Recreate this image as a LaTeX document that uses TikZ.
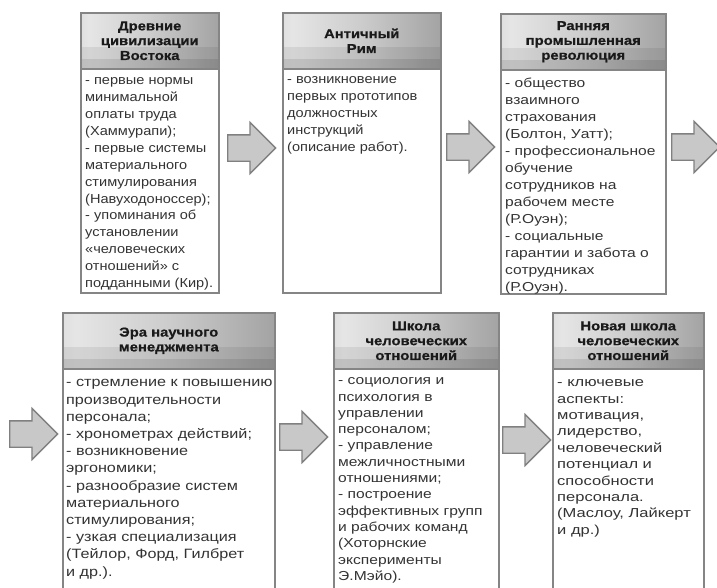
\documentclass[tikz,border=0pt]{standalone}
\usepackage{fontspec}
\setmainfont{Liberation Sans}
\newfontfamily\bodyA[FakeStretch=1.12]{Liberation Sans}
\newfontfamily\bodyB[FakeStretch=1.2]{Liberation Sans}
\newfontfamily\bodyC[FakeStretch=1.27]{Liberation Sans}
\newfontfamily\headf[FakeStretch=1.14, BoldFeatures={FakeBold=0.6}]{Liberation Sans}
\usetikzlibrary{shapes.arrows,calc}
\definecolor{bordc}{HTML}{858585}
\definecolor{txtc}{HTML}{333333}
\definecolor{hdtxt}{HTML}{1A1A1A}
\definecolor{arrfill}{HTML}{C8C8C8}
\definecolor{arrdraw}{HTML}{808080}
\pgfdeclarehorizontalshading{hdrshade}{100bp}{color(0bp)=(black!45); color(10bp)=(black!24); color(28bp)=(black!10); color(50bp)=(black!20); color(75bp)=(black!36); color(90bp)=(black!58); color(100bp)=(black!78)}
\begin{document}
\begin{tikzpicture}[x=1pt,y=-1pt,
  box/.style={draw=bordc, line width=1.5pt, fill=white, anchor=north west, inner sep=0},
  hdr/.style={draw=bordc, line width=1.5pt, shading=hdrshade, anchor=north west, inner sep=0, minimum height=56pt, align=center, text=hdtxt, font=\headf\bfseries\fontsize{13}{14.8}\selectfont,
    path picture={
      \fill[black, opacity=0.07] ($(path picture bounding box.south west)+(0,-22)$) rectangle (path picture bounding box.south east);
      \fill[black, opacity=0.09] ($(path picture bounding box.south west)+(0,-10)$) rectangle (path picture bounding box.south east);}},
  body/.style={anchor=north west, inner sep=0, align=left, text=txtc},
  fA/.style={font=\bodyA\fontsize{13}{16.9}\selectfont},
  fB/.style={font=\bodyB\fontsize{13}{17}\selectfont},
  fC/.style={font=\bodyC\fontsize{13}{16.4}\selectfont},
  barrow/.style={single arrow, single arrow head extend=12.5pt, inner sep=0, text height=25pt, text depth=0pt, minimum height=48pt, fill=arrfill, draw=arrdraw, line width=1.3pt, anchor=tail}
]
\path[use as bounding box] (0,0) rectangle (717,587);
\clip (0,0) rectangle (717,587);
\fill[white] (0,0) rectangle (717,587);

% top row
\node[box, minimum width=138pt, minimum height=280pt] (b1) at (80,12) {};
\node[hdr, minimum width=138pt] (h1) at (80,12) {Древние\\цивилизации\\Востока};
\node[body, fA] (t1) at ($(h1.south west)+(5,8)$) {- первые нормы\\минимальной\\оплаты труда\\(Хаммурапи);\\- первые системы\\материального\\стимулирования\\(Навуходоноссер);\\- упоминания об\\установлении\\«человеческих\\отношений» с\\подданными (Кир).};

\node[box, minimum width=158pt, minimum height=280pt] (b2) at (282,12) {};
\node[hdr, minimum width=158pt] (h2) at (282,12) {Античный\\Рим};
\node[body, fA] (t2) at ($(h2.south west)+(5,7)$) {- возникновение\\первых прототипов\\должностных\\инструкций\\(описание работ).};

\node[box, minimum width=165pt, minimum height=280pt] (b3) at (500,13) {};
\node[hdr, minimum width=165pt] (h3) at (500,13) {Ранняя\\промышленная\\революция};
\node[body, fB] (t3) at ($(h3.south west)+(5,7)$) {- общество\\взаимного\\страхования\\(Болтон, Уатт);\\- профессиональное\\обучение\\сотрудников на\\рабочем месте\\(Р.Оуэн);\\- социальные\\гарантии и забота о\\сотрудниках\\(Р.Оуэн).};

% bottom row
\node[box, minimum width=212pt, minimum height=290pt] (b4) at (62,312) {};
\node[hdr, minimum width=212pt] (h4) at (62,312) {Эра научного\\менеджмента};
\node[body, font=\bodyB\fontsize{13.5}{17.2}\selectfont] (t4) at ($(h4.south west)+(4,10)$) {- стремление к повышению\\производительности\\персонала;\\- хронометрах действий;\\- возникновение\\эргономики;\\- разнообразие систем\\материального\\стимулирования;\\- узкая специализация\\(Тейлор, Форд, Гилбрет\\и др.).};

\node[box, minimum width=165pt, minimum height=290pt] (b5) at (333,312) {};
\node[hdr, minimum width=165pt] (h5) at (333,312) {Школа\\человеческих\\отношений};
\node[body, font=\bodyB\fontsize{13}{16.3}\selectfont] (t5) at ($(h5.south west)+(5,8)$) {- социология и\\психология в\\управлении\\персоналом;\\- управление\\межличностными\\отношениями;\\- построение\\эффективных групп\\и рабочих команд\\(Хоторнские\\эксперименты\\Э.Мэйо).};

\node[box, minimum width=151pt, minimum height=290pt] (b6) at (552,312) {};
\node[hdr, minimum width=151pt] (h6) at (552,312) {Новая школа\\человеческих\\отношений};
\node[body, fC] (t6) at ($(h6.south west)+(5,10)$) {- ключевые\\аспекты:\\мотивация,\\лидерство,\\человеческий\\потенциал и\\способности\\персонала.\\(Маслоу, Лайкерт\\и др.)};

% block arrows
\node[barrow] (a1) at (227,148) {};
\node[barrow] (a2) at (446,147) {};
\node[barrow] (a3) at (671,147) {};
\node[barrow] (a4) at (9,434) {};
\node[barrow] (a5) at (279,437) {};
\node[barrow] (a6) at (502,440) {};
\end{tikzpicture}
\end{document}
